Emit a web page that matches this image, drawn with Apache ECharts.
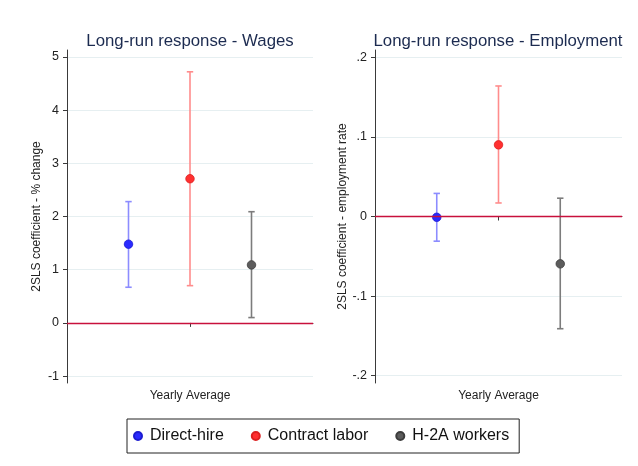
<!DOCTYPE html>
<html><head><meta charset="utf-8">
<script src="https://cdn.jsdelivr.net/npm/echarts@6/dist/echarts.min.js"></script>
<style>html,body{margin:0;padding:0;background:#fff}#c{width:638px;height:466px}</style>
</head><body><div id="c"></div>
<script>
const groups = ['Direct-hire', 'Contract labor', 'H-2A workers'];
const xCats = ['', 'Direct-hire', 'Contract labor', 'H-2A workers', ''];
const xLabel = 'Yearly Average';
const wagesCoef = [1.48, 2.71, 1.09];
const wagesLow = [0.67, 0.70, 0.10];
const wagesHigh = [2.28, 4.72, 2.09];
const empCoef = [-0.001, 0.090, -0.0595];
const empLow = [-0.031, 0.017, -0.141];
const empHigh = [0.029, 0.164, 0.023];
const wagesTicks = [-1, 0, 1, 2, 3, 4, 5];
const empTicks = [-0.2, -0.1, 0, 0.1, 0.2];
const empTickLabels = ['-.2', '-.1', '0', '.1', '.2'];
const titles = ['Long-run response - Wages', 'Long-run response - Employment'];
const yNames = ['2SLS coefficient - % change', '2SLS coefficient - employment rate'];

const pointColors = ['#2a2aff', '#ff3030', '#5c5c5c'];
const pointBorders = ['#1c1cd0', '#dc2020', '#3c3c3c'];
const barColors = ['#8c8cff', '#ff8c8c', '#7c7c7c'];
const font = '"Liberation Sans", Arial, Helvetica, sans-serif';
const axisColor = '#3a3a3a';
const gridColor = '#e6eff1';
const zeroColor = '#c8103c';

const chart = echarts.init(document.getElementById('c'));

function xAxis(gi) {
  return {
    type: 'category', gridIndex: gi, data: xCats, boundaryGap: false,
    axisLine: { lineStyle: { color: axisColor, width: 1 } },
    axisTick: { length: 4, interval: (i) => i === 2, lineStyle: { color: axisColor } },
    axisLabel: { interval: (i) => i === 2, formatter: () => xLabel, color: '#222', fontFamily: font, fontSize: 12, margin: 7 },
    splitLine: { show: false }
  };
}
function yAxis(gi, min, max, ticks, labels) {
  return {
    type: 'value', gridIndex: gi, min: min, max: max,
    name: yNames[gi], nameLocation: 'middle', nameGap: gi === 0 ? 24 : 22,
    nameTextStyle: { color: '#222', fontFamily: font, fontSize: 12 },
    axisLine: { show: true, lineStyle: { color: axisColor, width: 1 } },
    axisTick: { show: true, length: 4, customValues: ticks, lineStyle: { color: axisColor } },
    axisLabel: { customValues: ticks, color: '#222', fontFamily: font, fontSize: 12.5, margin: 8,
      formatter: (v) => { const i = ticks.findIndex(t => Math.abs(t - v) < 1e-9); return labels ? labels[i] : String(v); } },
    splitLine: { show: true, lineStyle: { color: gridColor, width: 1 } }
  };
}

const series = [];
function addPanel(gi, coef, low, high) {
  groups.forEach((g, i) => {
    series.push({
      type: 'custom', xAxisIndex: gi, yAxisIndex: gi, z: 2, silent: true,
      data: [[g, low[i], high[i]]],
      encode: { x: 0, y: [1, 2] },
      renderItem: (params, api) => {
        const x = api.value(0);
        const pLo = api.coord([x, api.value(1)]);
        const pHi = api.coord([x, api.value(2)]);
        const h = 3.2;
        const style = { stroke: barColors[i], lineWidth: 1.6, fill: null };
        return { type: 'group', children: [
          { type: 'line', shape: { x1: pLo[0], y1: pHi[1], x2: pLo[0], y2: pLo[1] }, style },
          { type: 'line', shape: { x1: pLo[0] - h, y1: pHi[1], x2: pLo[0] + h, y2: pHi[1] }, style },
          { type: 'line', shape: { x1: pLo[0] - h, y1: pLo[1], x2: pLo[0] + h, y2: pLo[1] }, style }
        ] };
      },
      markLine: i === 0 ? { silent: true, symbol: 'none', label: { show: false },
        lineStyle: { color: zeroColor, width: 1.3, type: 'solid' }, data: [{ yAxis: 0 }] } : undefined
    });
    series.push({
      type: 'scatter', name: g, xAxisIndex: gi, yAxisIndex: gi, z: 3,
      symbol: 'circle', symbolSize: 8.5,
      itemStyle: { color: pointColors[i], borderColor: pointBorders[i], borderWidth: 0.8, opacity: 1 },
      data: [[g, coef[i]]]
    });
  });
}
addPanel(0, wagesCoef, wagesLow, wagesHigh);
addPanel(1, empCoef, empLow, empHigh);

chart.setOption({
  animation: false,
  backgroundColor: '#fff',
  title: [
    { text: titles[0], left: 185, top: 28, textAlign: 'center', textStyle: { color: '#1c2b50', fontFamily: font, fontSize: 16.8, fontWeight: 'normal' } },
    { text: titles[1], left: 493, top: 28, textAlign: 'center', textStyle: { color: '#1c2b50', fontFamily: font, fontSize: 16.8, fontWeight: 'normal' } }
  ],
  grid: [
    { left: 67, right: 325, top: 50, bottom: 83, containLabel: false },
    { left: 375, right: 16, top: 50, bottom: 83, containLabel: false }
  ],
  xAxis: [xAxis(0), xAxis(1)],
  yAxis: [
    yAxis(0, -1.13, 5.13, wagesTicks, null),
    yAxis(1, -0.2092, 0.2092, empTicks, empTickLabels)
  ],
  legend: {
    data: groups, left: 127, top: 419, orient: 'horizontal',
    icon: 'circle', itemWidth: 8, itemHeight: 8, itemGap: 27,
    padding: [9, 10, 9, 6], borderColor: '#222', borderWidth: 1,
    textStyle: { color: '#111', fontFamily: font, fontSize: 16, padding: [0, 0, 0, 3] }
  },
  series: series
});
</script></body></html>
